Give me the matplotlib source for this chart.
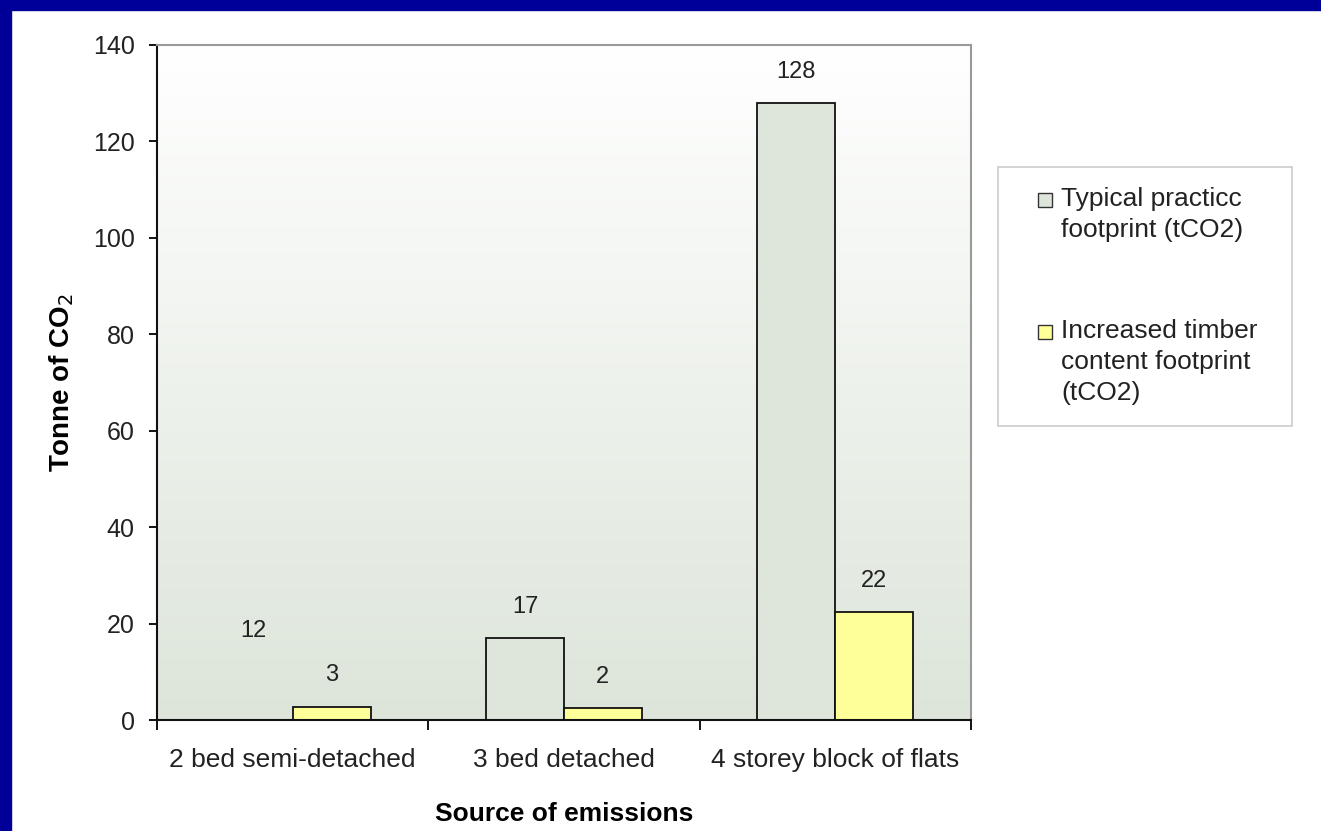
import numpy as np
import matplotlib.pyplot as plt
from matplotlib.patches import Rectangle

plt.rcParams.update({'font.family': ['Liberation Sans', 'DejaVu Sans'], 'font.size': 18})

categories = ["2 bed semi-detached", "3 bed detached", "4 storey block of flats"]
typical = [12, 17, 128]
timber = [2.8, 2.4, 22.3]
labels_typical = ["12", "17", "128"]
labels_timber = ["3", "2", "22"]
legend_names = ["Typical practicc\nfootprint (tCO2)",
                "Increased timber\ncontent footprint\n(tCO2)"]

W, H = 1321, 831
fig = plt.figure(figsize=(W / 100, H / 100), dpi=100, facecolor='white')


def fx(px):
    return px / W


def fy(py):
    return 1 - py / H


# blue frame top and left
fig.patches.append(Rectangle((0, fy(10)), 1, 10 / H, transform=fig.transFigure,
                             color='#000099', zorder=0))
fig.patches.append(Rectangle((0, 0), 11 / W, 1, transform=fig.transFigure,
                             color='#000099', zorder=0))

x0, x1, y0, y1 = 157, 971, 45, 720
ax = fig.add_axes([fx(x0), fy(y1), (x1 - x0) / W, (y1 - y0) / H])

# gradient background
top = np.array([1.0, 1.0, 1.0])
bot = np.array([0xdd, 0xe5, 0xda]) / 255
t = np.linspace(0, 1, 256)[:, None]
grad = top * (1 - t) + bot * t
grad = np.repeat(grad[:, None, :], 2, axis=1)
ax.imshow(grad, extent=[-0.5, 2.5, 0, 140], aspect='auto', zorder=0, origin='upper')

x = np.arange(len(categories))
w = 0.287
green = '#dee6dc'
yellow = '#ffff99'
b1 = ax.bar(x - w / 2, typical, w, color=green, edgecolor='#111111', linewidth=1.3, zorder=2)
b2 = ax.bar(x + w / 2, timber, w, color=yellow, edgecolor='#111111', linewidth=1.3, zorder=2)
# first typical bar is not shown in the original chart
b1[0].set_visible(False)

for rect, lab in zip(b1, labels_typical):
    ax.text(rect.get_x() + rect.get_width() / 2, rect.get_height() + 4.2, lab,
            ha='center', va='bottom', fontsize=17, color='#222222')
for rect, lab in zip(b2, labels_timber):
    ax.text(rect.get_x() + rect.get_width() / 2, rect.get_height() + 4.2, lab,
            ha='center', va='bottom', fontsize=17, color='#222222')

ax.set_xlim(-0.5, 2.5)
ax.set_ylim(0, 140)
ax.set_yticks(np.arange(0, 141, 20))
ax.set_xticks(x)
ax.set_xticklabels(categories, fontsize=19)
ax.set_xticks([-0.5, 0.5, 1.5, 2.5], minor=True)
ax.tick_params(axis='x', which='major', length=0, pad=20, labelcolor='#222222')
ax.tick_params(axis='x', which='minor', length=7, width=1.3, direction='out')
ax.tick_params(axis='y', length=6, width=1.3, direction='out', pad=10, labelsize=18,
               labelcolor='#222222')
for s in ['left', 'bottom']:
    ax.spines[s].set_color('#111111')
    ax.spines[s].set_linewidth(1.5)
for s in ['top', 'right']:
    ax.spines[s].set_color('#999999')
    ax.spines[s].set_linewidth(1.5)

ax.set_ylabel("Tonne of CO$_2$", fontweight='bold', fontsize=20, labelpad=12)
ax.set_xlabel("Source of emissions", fontweight='bold', fontsize=19, labelpad=22)

# legend box drawn like the original (handle aligned to first line)
fig.patches.append(Rectangle((fx(998), fy(426)), (1292 - 998) / W, (426 - 167) / H,
                             transform=fig.transFigure, facecolor='white',
                             edgecolor='#cccccc', linewidth=1.2, zorder=1))
entries = [(legend_names[0], green, 193), (legend_names[1], yellow, 325)]
for name, col, ytop in entries:
    fig.patches.append(Rectangle((fx(1038), fy(ytop + 14)), 14 / W, 14 / H,
                                 transform=fig.transFigure, facecolor=col,
                                 edgecolor='#333333', linewidth=1.0, zorder=2))
    fig.text(fx(1061), fy(ytop - 6), name, ha='left', va='top', fontsize=19,
             color='#222222', linespacing=1.38, zorder=3)

fig.savefig("out.png", dpi=100, facecolor='white')
